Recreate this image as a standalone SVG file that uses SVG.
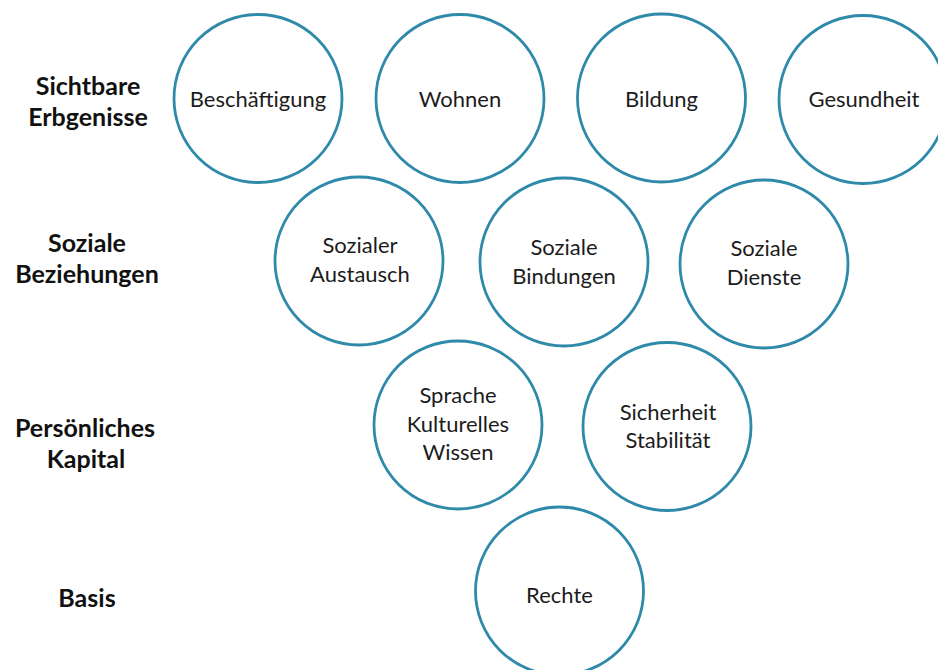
<svg xmlns="http://www.w3.org/2000/svg" width="938" height="670" viewBox="0 0 938 670">
<style>
.c{fill:#fff;stroke:#2f8aaa;stroke-width:2.8}
.t{font-family:Lato,"Open Sans","Liberation Sans",sans-serif;font-size:22px;fill:#1c1c1c;text-anchor:middle}
.l{font-family:Lato,"Open Sans","Liberation Sans",sans-serif;font-size:25px;font-weight:bold;fill:#111;text-anchor:middle}
</style>
<rect width="938" height="670" fill="#fff"/>
<g id="labels">
<text class="l" x="88" y="95">Sichtbare</text>
<text class="l" x="88" y="126">Erbgenisse</text>
<text class="l" x="87" y="252">Soziale</text>
<text class="l" x="87" y="283">Beziehungen</text>
<text class="l" x="85" y="437">Persönliches</text>
<text class="l" x="86" y="468">Kapital</text>
<text class="l" x="87" y="607">Basis</text>
</g>
<g id="connectors"></g>
<g id="n-beschaeftigung"><circle class="c" cx="258" cy="98.5" r="84"/><text class="t" x="258" y="107">Beschäftigung</text></g>
<g id="n-wohnen"><circle class="c" cx="460" cy="98.5" r="84"/><text class="t" x="460" y="107">Wohnen</text></g>
<g id="n-bildung"><circle class="c" cx="661.5" cy="98" r="84"/><text class="t" x="661.5" y="107">Bildung</text></g>
<g id="n-gesundheit"><circle class="c" cx="863" cy="99.5" r="84"/><text class="t" x="864" y="107">Gesundheit</text></g>
<g id="n-austausch"><circle class="c" cx="359" cy="261" r="84"/><text class="t" x="360" y="253">Sozialer</text><text class="t" x="360" y="282">Austausch</text></g>
<g id="n-bindungen"><circle class="c" cx="564" cy="262" r="84"/><text class="t" x="564" y="255">Soziale</text><text class="t" x="564" y="284">Bindungen</text></g>
<g id="n-dienste"><circle class="c" cx="764" cy="264" r="84"/><text class="t" x="764" y="256">Soziale</text><text class="t" x="764" y="285">Dienste</text></g>
<g id="n-sprache"><circle class="c" cx="458" cy="425" r="84"/><text class="t" x="458" y="403">Sprache</text><text class="t" x="458" y="432">Kulturelles</text><text class="t" x="458" y="460">Wissen</text></g>
<g id="n-sicherheit"><circle class="c" cx="667" cy="426.5" r="84"/><text class="t" x="668" y="420">Sicherheit</text><text class="t" x="668" y="448">Stabilität</text></g>
<g id="n-rechte"><circle class="c" cx="559.5" cy="591" r="84"/><text class="t" x="559.5" y="603">Rechte</text></g>
</svg>
